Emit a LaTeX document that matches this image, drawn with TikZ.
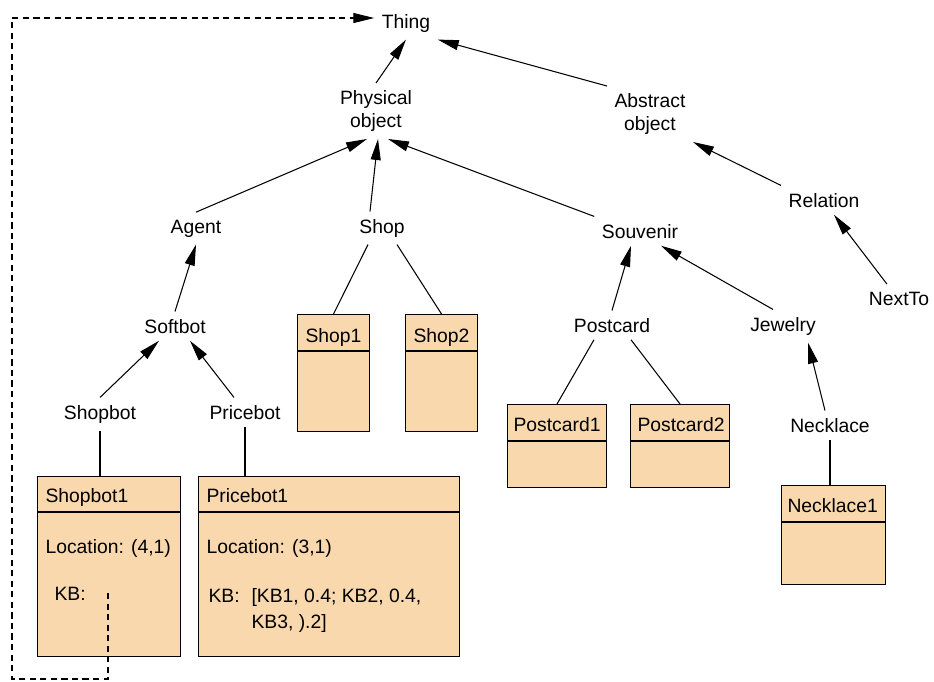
\documentclass[tikz,border=0pt]{standalone}
\usepackage{fontspec}
\setmainfont{Liberation Sans}
\usetikzlibrary{arrows.meta}
\tikzset{>={Triangle[length=4.2mm,width=2mm]}}
\definecolor{boxfill}{RGB}{249,216,174}

\begin{document}
\begin{tikzpicture}[x=0.02cm,y=-0.02cm,line width=0.6pt,
    font=\fontsize{11}{13}\selectfont,
    concept/.style={inner sep=4pt,anchor=base},
    concept2/.style={inner sep=4pt,align=center},
    objbox/.style={draw,fill=boxfill,inner sep=0pt,anchor=north west},
    slot/.style={inner sep=0pt,anchor=base west},
    isa/.style={->},
    inst/.style={-}]
  \useasboundingbox (0,0) rectangle (934,681);

  % class hierarchy
  \node[concept] (thing) at (406,28) {Thing};
  \node[concept2] (physical) at (376,111) {Physical\\object};
  \node[concept2] (abstract) at (650,114) {Abstract\\object};
  \node[concept] (agent) at (196,233) {Agent};
  \node[concept] (shop) at (382,233) {Shop};
  \node[concept] (souvenir) at (640,238) {Souvenir};
  \node[concept] (relation) at (824,207) {Relation};
  \node[concept] (softbot) at (175,333) {Softbot};
  \node[concept] (postcard) at (612,332) {Postcard};
  \node[concept] (jewelry) at (783,331) {Jewelry};
  \node[concept] (nextto) at (899,305) {NextTo};
  \node[concept] (shopbot) at (100,419) {Shopbot};
  \node[concept] (pricebot) at (245,419) {Pricebot};
  \node[concept] (necklace) at (830,432) {Necklace};

  \draw[isa] (physical.north) -- (thing.south);
  \draw[isa] (abstract.north west) -- (thing.south east);
  \draw[isa] (agent.north) -- ([shift={(-9,0)}]physical.south);
  \draw[isa] ([shift={(-12,0)}]shop.north) -- ([shift={(2,0)}]physical.south);
  \draw[isa] (souvenir.north west) -- ([shift={(12,0)}]physical.south);
  \draw[isa] (relation.north west) -- (abstract.south east);
  \draw[isa] ([shift={(-12,0)}]nextto.north) -- ([shift={(10,0)}]relation.south);
  \draw[isa] (softbot.north) -- (agent.south);
  \draw[isa] (postcard.north) -- ([shift={(-9,0)}]souvenir.south);
  \draw[isa] ([shift={(-10,0)}]jewelry.north) -- ([shift={(21,0)}]souvenir.south);
  \draw[isa] (shopbot.north) -- ([shift={(-16,0)}]softbot.south);
  \draw[isa] ([shift={(-11,0)}]pricebot.north) -- ([shift={(15,0)}]softbot.south);
  \draw[isa] ([shift={(-5,0)}]necklace.north) -- ([shift={(25,0)}]jewelry.south);

  % instances
  \node[objbox,minimum width=2.86cm,minimum height=3.6cm] (shopbot1) at (37,476) {};
  \node[objbox,minimum width=5.22cm,minimum height=3.6cm] (pricebot1) at (198,476) {};
  \node[objbox,minimum width=1.44cm,minimum height=2.34cm] (shop1) at (297,314) {};
  \node[objbox,minimum width=1.44cm,minimum height=2.34cm] (shop2) at (405,314) {};
  \node[objbox,minimum width=1.98cm,minimum height=1.66cm] (postcard1) at (507,404) {};
  \node[objbox,minimum width=1.98cm,minimum height=1.66cm] (postcard2) at (630,404) {};
  \node[objbox,minimum width=2.08cm,minimum height=1.98cm] (necklace1) at (781,485) {};

  \draw ([shift={(0,36)}]shopbot1.north west) -- ([shift={(0,36)}]shopbot1.north east);
  \draw ([shift={(0,36)}]pricebot1.north west) -- ([shift={(0,36)}]pricebot1.north east);
  \draw ([shift={(0,37)}]shop1.north west) -- ([shift={(0,37)}]shop1.north east);
  \draw ([shift={(0,37)}]shop2.north west) -- ([shift={(0,37)}]shop2.north east);
  \draw ([shift={(0,37)}]postcard1.north west) -- ([shift={(0,37)}]postcard1.north east);
  \draw ([shift={(0,37)}]postcard2.north west) -- ([shift={(0,37)}]postcard2.north east);
  \draw ([shift={(0,37)}]necklace1.north west) -- ([shift={(0,37)}]necklace1.north east);

  \node[slot] (shopbot1t) at (45,502) {Shopbot1};
  \node[slot] (shopbot1loc) at (45,553) {Location: (4,1)};
  \node[slot] (shopbot1kb) at (54,600) {KB:};
  \node[slot] (pricebot1t) at (206,502) {Pricebot1};
  \node[slot] (pricebot1loc) at (206,553) {Location: (3,1)};
  \node[slot] (pricebot1kb) at (208,602) {KB:};
  \node[slot] (pricebot1kba) at (251,602) {[KB1, 0.4; KB2, 0.4,};
  \node[slot] (pricebot1kbb) at (251,628) {KB3, ).2]};
  \node[slot] (shop1t) at (305,342) {Shop1};
  \node[slot] (shop2t) at (413,342) {Shop2};
  \node[slot] (postcard1t) at (513,431) {Postcard1};
  \node[slot] (postcard2t) at (637,431) {Postcard2};
  \node[slot] (necklace1t) at (787,512) {Necklace1};

  \draw[inst] ([shift={(-14,0)}]shop.south) -- (shop1.north);
  \draw[inst] ([shift={(15,0)}]shop.south) -- (shop2.north);
  \draw[inst] ([shift={(-18,0)}]postcard.south) -- (postcard1.north);
  \draw[inst] ([shift={(19,0)}]postcard.south) -- (postcard2.north);
  \draw[inst] (shopbot.south) -- (shopbot.south |- shopbot1.north);
  \draw[inst] (pricebot.south) -- (pricebot.south |- pricebot1.north);
  \draw[inst] (necklace.south) -- (necklace.south |- necklace1.north);

  % KB reference back to the top
  \coordinate (kbref) at (108,593);
  \draw[dash pattern=on 3.5pt off 2.5pt,->] (kbref) |- (12,679) |- ([shift={(0,-5)}]thing.west);
\end{tikzpicture}
\end{document}
